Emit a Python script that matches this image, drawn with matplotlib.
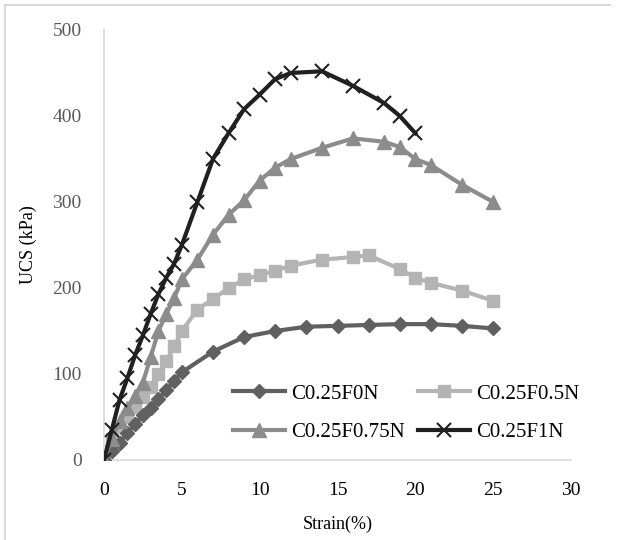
import matplotlib
matplotlib.use('Agg')
import matplotlib.pyplot as plt
from matplotlib.lines import Line2D

# strain (%) and UCS (kPa) for each mix
strain_f0 = [0, 0.5, 1, 1.5, 2, 2.5, 3, 3.5, 4, 4.5, 5, 7, 9, 11, 13, 15, 17, 19, 21, 23, 25]
ucs_f0 = [0, 10, 20, 31, 42, 52, 61, 71, 81, 92, 102, 126, 143, 150, 155, 156, 157, 158, 158, 156, 153]

strain_f05 = [0, 0.5, 1, 1.5, 2, 2.5, 3, 3.5, 4, 4.5, 5, 6, 7, 8, 9, 10, 11, 12, 14, 16, 17, 19, 20, 21, 23, 25]
ucs_f05 = [0, 25, 38, 50, 62, 73, 85, 100, 115, 132, 150, 175, 187, 200, 210, 215, 220, 226, 233, 236, 238, 222, 212, 206, 197, 185]

strain_f075 = [0, 0.5, 1, 1.5, 2, 2.5, 3, 3.5, 4, 4.5, 5, 6, 7, 8, 9, 10, 11, 12, 14, 16, 18, 19, 20, 21, 23, 25]
ucs_f075 = [0, 25, 45, 60, 75, 90, 120, 150, 170, 188, 210, 233, 262, 285, 302, 325, 340, 350, 363, 374, 370, 364, 350, 343, 320, 300]

strain_f1 = [0, 0.5, 1, 1.5, 2, 2.5, 3, 3.5, 4, 4.5, 5, 6, 7, 8, 9, 10, 11, 12, 14, 16, 18, 19, 20]
ucs_f1 = [0, 35, 70, 95, 122, 145, 170, 193, 212, 228, 250, 300, 350, 380, 408, 425, 443, 450, 452, 435, 415, 400, 380]

labels = ['C0.25F0N', 'C0.25F0.5N', 'C0.25F0.75N', 'C0.25F1N']

plt.rcParams['font.family'] = 'Liberation Serif'

fig = plt.figure(figsize=(6.18, 5.4), dpi=100)
ax = fig.add_axes([104 / 618, 1 - 460 / 540, 467 / 618, 430 / 540])

l0, = ax.plot(strain_f0, ucs_f0, color='#606060', lw=3, marker='D', ms=7, label=labels[0], zorder=3)
l1, = ax.plot(strain_f05, ucs_f05, color='#b4b4b4', lw=3, marker='s', ms=9, label=labels[1], zorder=2)
l2, = ax.plot(strain_f075, ucs_f075, color='#8c8c8c', lw=3, marker='^', ms=10, label=labels[2], zorder=4)
l3, = ax.plot(strain_f1, ucs_f1, color='#202020', lw=3, marker='x', ms=10, mew=1.5, label=labels[3], zorder=5)

ax.set_xlim(0, 30)
ax.set_ylim(0, 500)
ax.set_xticks(range(0, 31, 5))
ax.set_yticks(range(0, 501, 100))
ax.tick_params(axis='x', length=0, labelsize=14, colors='black', pad=16)
ax.tick_params(axis='y', length=0, labelsize=14, labelcolor='#595959', pad=16)

for side in ['top', 'right']:
    ax.spines[side].set_visible(False)
for side in ['left', 'bottom']:
    ax.spines[side].set_color('#d9d9d9')
    ax.spines[side].set_linewidth(1.2)

ax.set_xlabel('Strain(%)', fontsize=13, labelpad=12)
ax.set_ylabel('UCS (kPa)', fontsize=13, labelpad=11)

# row-major order like the original: F0N, F0.5N / F0.75N, F1N
ax.legend([l0, l2, l1, l3], [labels[0], labels[2], labels[1], labels[3]],
          ncol=2, loc='center', bbox_to_anchor=(0.647, 0.109), frameon=False,
          fontsize=15, handlelength=2.5, handletextpad=0.3, columnspacing=0.6,
          labelspacing=0.9, borderpad=0)

# light frame (top and left edges visible in the reference)
fig.add_artist(Line2D([5 / 618, 610 / 618], [1 - 5 / 540, 1 - 5 / 540], color='#d9d9d9', lw=1.5))
fig.add_artist(Line2D([5 / 618, 5 / 618], [1 - 5 / 540, 0], color='#d9d9d9', lw=1.5))

plt.savefig('out.png', dpi=100)
